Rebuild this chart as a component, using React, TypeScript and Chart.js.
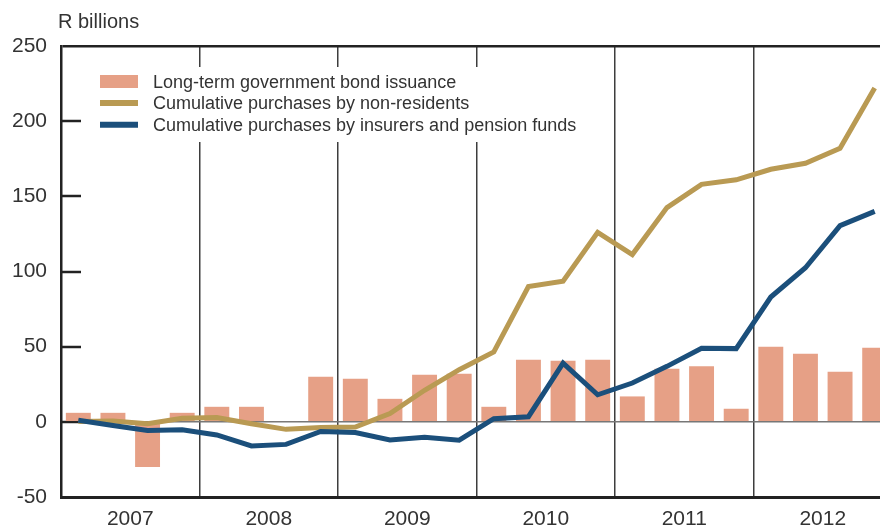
import React, { useEffect, useRef } from 'react';
import { Chart, registerables } from 'chart.js';

Chart.register(...registerables);

const quarters = [
  '2007Q1', '2007Q2', '2007Q3', '2007Q4',
  '2008Q1', '2008Q2', '2008Q3', '2008Q4',
  '2009Q1', '2009Q2', '2009Q3', '2009Q4',
  '2010Q1', '2010Q2', '2010Q3', '2010Q4',
  '2011Q1', '2011Q2', '2011Q3', '2011Q4',
  '2012Q1', '2012Q2', '2012Q3', '2012Q4',
];
const years = ['2007', '2008', '2009', '2010', '2011', '2012'];

const bondIssuance = [6, 6, -30, 6, 10, 10, 0.5, 30, 28.7, 15.3, 31.3, 32, 10, 41.3, 40.7, 41.3, 16.9, 35.3, 36.9, 8.7, 50, 45.3, 33.3, 49.3];
const nonResidents = [0.2, 0.5, -1.3, 2.4, 2.9, -1.3, -5, -3.8, -3.5, 5.5, 21, 34.7, 46.5, 90, 93.6, 126, 111.3, 142.5, 158, 161, 168, 172, 182, 222];
const insurersPension = [1, -2.4, -5.8, -5.3, -8.7, -16, -15, -6.4, -7.1, -12, -10.2, -12.2, 2.1, 3.4, 39, 18, 25.8, 36.9, 49, 48.7, 83, 102.5, 130.5, 140];

const seriesNames = [
  'Long-term government bond issuance',
  'Cumulative purchases by non-residents',
  'Cumulative purchases by insurers and pension funds',
];
const yTicks = [-50, 0, 50, 100, 150, 200, 250];
const yUnit = 'R billions';

const BAR = '#E6A086';
const GOLD = '#B99A53';
const BLUE = '#1B4F7B';
const INK = '#333333';
const FONT = '"Liberation Sans", Arial, Helvetica, sans-serif';

const overlayPlugin = {
  id: 'overlay',
  afterLayout(chart: any) {
    if (chart.titleBlock) {
      chart.titleBlock.left = chart.chartArea.left - 3;
    }
  },
  beforeDatasetsDraw(chart: any) {
    const { ctx, chartArea, scales } = chart;
    const y = scales.y;
    ctx.save();
    // inward tick marks on the y axis
    ctx.strokeStyle = '#222';
    ctx.lineWidth = 2.5;
    yTicks.filter((v) => v > yTicks[0] && v < yTicks[yTicks.length - 1]).forEach((v) => {
      const py = Math.round(y.getPixelForValue(v));
      ctx.beginPath();
      ctx.moveTo(chartArea.left, py);
      ctx.lineTo(chartArea.left + 20, py);
      ctx.stroke();
    });
    // legend box
    const lx = chartArea.left + 39;
    const ly = chartArea.top + 35.5;
    ctx.fillStyle = '#ffffff';
    ctx.fillRect(chartArea.left + 27, chartArea.top + 21, 500, 75);
    const rowGap = 21.6;
    ctx.fillStyle = BAR;
    ctx.fillRect(lx, ly - 6.5, 38, 13);
    ctx.lineWidth = 6;
    ctx.strokeStyle = GOLD;
    ctx.beginPath();
    ctx.moveTo(lx, ly + rowGap);
    ctx.lineTo(lx + 38, ly + rowGap);
    ctx.stroke();
    ctx.strokeStyle = BLUE;
    ctx.beginPath();
    ctx.moveTo(lx, ly + 2 * rowGap);
    ctx.lineTo(lx + 38, ly + 2 * rowGap);
    ctx.stroke();
    ctx.fillStyle = INK;
    ctx.font = `18px ${FONT}`;
    ctx.textBaseline = 'middle';
    ctx.textAlign = 'left';
    seriesNames.forEach((name, i) => {
      ctx.fillText(name, lx + 53, ly + 1.2 + i * rowGap);
    });
    ctx.restore();
  },
};

export default function App() {
  const ref = useRef<HTMLCanvasElement>(null);
  useEffect(() => {
    const chart = new Chart(ref.current as HTMLCanvasElement, {
      type: 'bar',
      data: {
        labels: quarters,
        datasets: [
          {
            type: 'line',
            label: seriesNames[2],
            data: insurersPension,
            borderColor: BLUE,
            backgroundColor: BLUE,
            borderWidth: 5,
            pointRadius: 0,
            tension: 0,
            order: 0,
          } as any,
          {
            type: 'line',
            label: seriesNames[1],
            data: nonResidents,
            borderColor: GOLD,
            backgroundColor: GOLD,
            borderWidth: 5,
            pointRadius: 0,
            tension: 0,
            order: 1,
          } as any,
          {
            type: 'bar',
            label: seriesNames[0],
            data: bondIssuance,
            backgroundColor: BAR,
            borderWidth: 0,
            barPercentage: 0.72,
            categoryPercentage: 1,
            order: 2,
          },
        ],
      },
      options: {
        responsive: false,
        devicePixelRatio: 1,
        animation: false,
        layout: { padding: { left: 0, right: 0, top: 0, bottom: 0 } },
        plugins: {
          legend: { display: false },
          tooltip: { enabled: false },
          title: {
            display: true,
            text: yUnit,
            align: 'start',
            color: INK,
            font: { family: FONT, size: 20, weight: 'normal' },
            padding: { top: 10.5, bottom: 11.5 },
          },
        },
        scales: {
          x: {
            type: 'category',
            offset: true,
            grid: {
              offset: true,
              drawTicks: false,
              color: (ctx: any) => (ctx.index > 0 && ctx.index % 4 === 0 && ctx.index < quarters.length ? '#3d3d3d' : 'rgba(0,0,0,0)'),
              lineWidth: 1.5,
            },
            border: { color: '#222', width: 3 },
            ticks: {
              autoSkip: false,
              maxRotation: 0,
              minRotation: 0,
              padding: 10,
              labelOffset: 17.3,
              color: INK,
              font: { family: FONT, size: 21 },
              callback: (_v: any, i: number) => (i % 4 === 1 ? years[(i - 1) / 4] : ''),
            },
            afterFit: (s: any) => {
              s.height = 32;
            },
          },
          y: {
            type: 'linear',
            min: yTicks[0],
            max: yTicks[yTicks.length - 1],
            grid: {
              drawTicks: false,
              color: (ctx: any) => {
                const v = ctx.tick && ctx.tick.value;
                if (v === 0) return '#777777';
                if (v === yTicks[yTicks.length - 1]) return '#222222';
                return 'rgba(0,0,0,0)';
              },
              lineWidth: (ctx: any) => (ctx.tick && ctx.tick.value === yTicks[yTicks.length - 1] ? 2.5 : 1.6),
            },
            border: { color: '#222', width: 2.5 },
            ticks: {
              stepSize: 50,
              padding: 14,
              color: INK,
              font: { family: FONT, size: 21 },
            },
            afterFit: (s: any) => {
              s.width = 61;
            },
          },
        },
      },
      plugins: [overlayPlugin],
    });
    return () => chart.destroy();
  }, []);
  return (
    <div
      style={{
        position: 'fixed',
        left: 0,
        top: 0,
        width: 880,
        height: 529,
        overflow: 'hidden',
        background: '#ffffff',
      }}
    >
      <canvas ref={ref} width={892} height={529} style={{ display: 'block', width: 892, height: 529 }} />
    </div>
  );
}
